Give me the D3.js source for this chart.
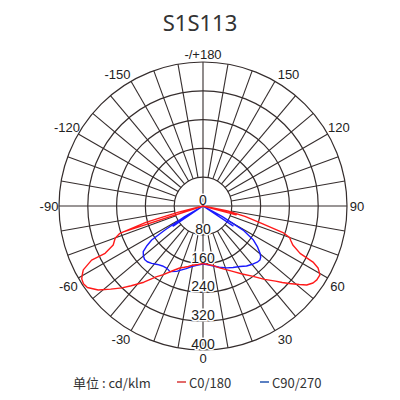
<!DOCTYPE html>
<html><head><meta charset="utf-8">
<script src="https://cdn.jsdelivr.net/npm/d3@7"></script>
<style>html,body{margin:0;padding:0;background:#fff;}</style>
</head><body>
<svg id="chart" width="400" height="400"></svg>
<script>
const title = "S1S113";
const ringValues = [80, 160, 240, 320, 400];
const ringLabels = ["0", "80", "160", "240", "320", "400"];
const angleTicks = [-150, -120, -90, -60, -30, 0, 30, 60, 90, 120, 150, 180];
const angleTickLabels = ["-150", "-120", "-90", "-60", "-30", "0", "30", "60", "90", "120", "150", "-/+180"];
const seriesNames = ["C0/180", "C90/270"];
const unitLabel = "单位 : cd/klm";

// [gamma angle (deg, + = right side), intensity cd/klm]
const c0Right = [[0,160],[5,163],[10,168],[15,178],[20,188],[25,201],[30,218],[35,238],[40,266],[44,290],[46,306],[48,322],[50.8,345],[52.7,362],[55,373],[57,377],[59.5,377],[61.7,363],[63,343],[64,300],[66.5,272],[68.5,262],[70,256],[71.5,236],[73.5,168],[76,120],[78.5,70],[80,0],[75,95],[77,0]];
const c180Left = [[0,160],[-5,163],[-10,167],[-13.6,173],[-17,178],[-20.6,184],[-25.5,200],[-30,220],[-33.5,236],[-37.8,268],[-42,298],[-44.7,320],[-48,345],[-51.3,373],[-54.8,393],[-57,396],[-59,393],[-60.5,385],[-61.9,377],[-63,360],[-64.1,344],[-64.2,302],[-66.5,272],[-69.8,260],[-71.8,243],[-74,165],[-76,70],[-78,0],[-72,228],[-75,0]];
const c90Right = [[0,161],[5,164],[9.8,169],[15,176],[21,184],[26,190],[31.4,197],[36,206],[40.9,213],[44,217],[46.5,218],[48.5,214],[50.3,206],[53,190],[56,169],[59,130],[61.5,60],[63,0],[56.5,100],[59,0]];
const c270Left = [[0,161],[-5,165],[-10.5,171],[-15,180],[-18.4,187],[-22,196],[-26.7,204],[-30,200],[-34,201],[-38,206],[-41.8,214],[-45,219],[-47.5,220],[-50,216],[-52.6,209],[-54.8,190],[-56.5,171],[-57.7,125],[-60,60],[-62,0],[-56,100],[-59,0]];

const cx = 203, cy = 206, R = 144;
const svg = d3.select("#chart");
const r = d3.scaleLinear().domain([0, 400]).range([0, R]);
const rad = d => (180 - d) * Math.PI / 180;
const pt = (a, v) => [cx + r(v) * Math.sin(a * Math.PI / 180), cy + r(v) * Math.cos(a * Math.PI / 180)];

const gridColor = "#352d2d";
const g = svg.append("g");

// spokes
d3.range(-170, 181, 10).forEach(a => {
  const through = (a % 90 === 0);
  const p0 = pt(a, through ? 0 : ringValues[0]);
  const p1 = pt(a, 400);
  g.append("line").attr("x1", p0[0]).attr("y1", p0[1]).attr("x2", p1[0]).attr("y2", p1[1])
    .attr("stroke", gridColor).attr("stroke-width", 1.1);
});
// rings
ringValues.forEach(v => {
  g.append("circle").attr("cx", cx).attr("cy", cy).attr("r", r(v))
    .attr("fill", "none").attr("stroke", gridColor).attr("stroke-width", 1.2);
});

// ring labels
[0].concat(ringValues).forEach((v, i) => {
  g.append("text").attr("x", cx).attr("y", cy + r(v) - 6)
    .attr("text-anchor", "middle").attr("dominant-baseline", "central")
    .attr("font-family", "'Liberation Sans', Arial, sans-serif").attr("font-size", 14)
    .attr("fill", "#222").attr("stroke", "#fff").attr("stroke-width", 3).attr("paint-order", "stroke")
    .text(ringLabels[i]);
});

// angle labels (placed slightly rotated toward the horizontal, as in the original)
angleTicks.forEach((a, i) => {
  const m = Math.abs(a), s = Math.sign(a);
  const shift = m === 150 ? -3 : (m === 30 ? 1.5 : (m === 60 ? -1 : 0));
  const la = a + s * shift;
  const rr = (m === 0 || m === 180) ? 152 : (m === 90 ? 154 : 157);
  const x = cx + rr * Math.sin(la * Math.PI / 180);
  const y = cy + rr * Math.cos(la * Math.PI / 180);
  g.append("text").attr("x", x).attr("y", y)
    .attr("text-anchor", "middle").attr("dominant-baseline", "central")
    .attr("font-family", "'Liberation Sans', Arial, sans-serif").attr("font-size", 13)
    .attr("fill", "#222").text(angleTickLabels[i]);
});

// curves
const line = d3.lineRadial().angle(d => rad(d[0])).radius(d => r(d[1]));
function full(left, right) { return left.slice().reverse().concat(right.slice(1)); }
const cg = svg.append("g").attr("transform", `translate(${cx},${cy})`);
cg.append("path").attr("d", line(full(c270Left, c90Right)))
  .attr("fill", "none").attr("stroke", "#1a1aff").attr("stroke-width", 1.4).attr("stroke-linejoin", "round");
cg.append("path").attr("d", line(full(c180Left, c0Right)))
  .attr("fill", "none").attr("stroke", "#ff1a1a").attr("stroke-width", 1.4).attr("stroke-linejoin", "round");

// title
svg.append("text").attr("x", 200).attr("y", 31).attr("text-anchor", "middle")
  .attr("font-family", "'Noto Sans', sans-serif").attr("font-size", 22).attr("fill", "#333").text(title);

// legend
const ly = 382;
const lf = "'Noto Sans CJK SC', 'Noto Sans', sans-serif";
svg.append("text").attr("x", 73).attr("y", ly).attr("dominant-baseline", "central")
  .attr("font-family", lf).attr("font-size", 13).attr("fill", "#333").text(unitLabel);
const legendColors = ["#e26a6a", "#5b80c2"];
const legendX = [177, 260];
seriesNames.forEach((n, i) => {
  svg.append("line").attr("x1", legendX[i]).attr("x2", legendX[i] + 9).attr("y1", ly).attr("y2", ly)
    .attr("stroke", legendColors[i]).attr("stroke-width", 2);
  svg.append("text").attr("x", legendX[i] + 12).attr("y", ly).attr("dominant-baseline", "central")
    .attr("font-family", lf).attr("font-size", 13).attr("fill", "#333").text(n);
});
</script>
</body></html>
